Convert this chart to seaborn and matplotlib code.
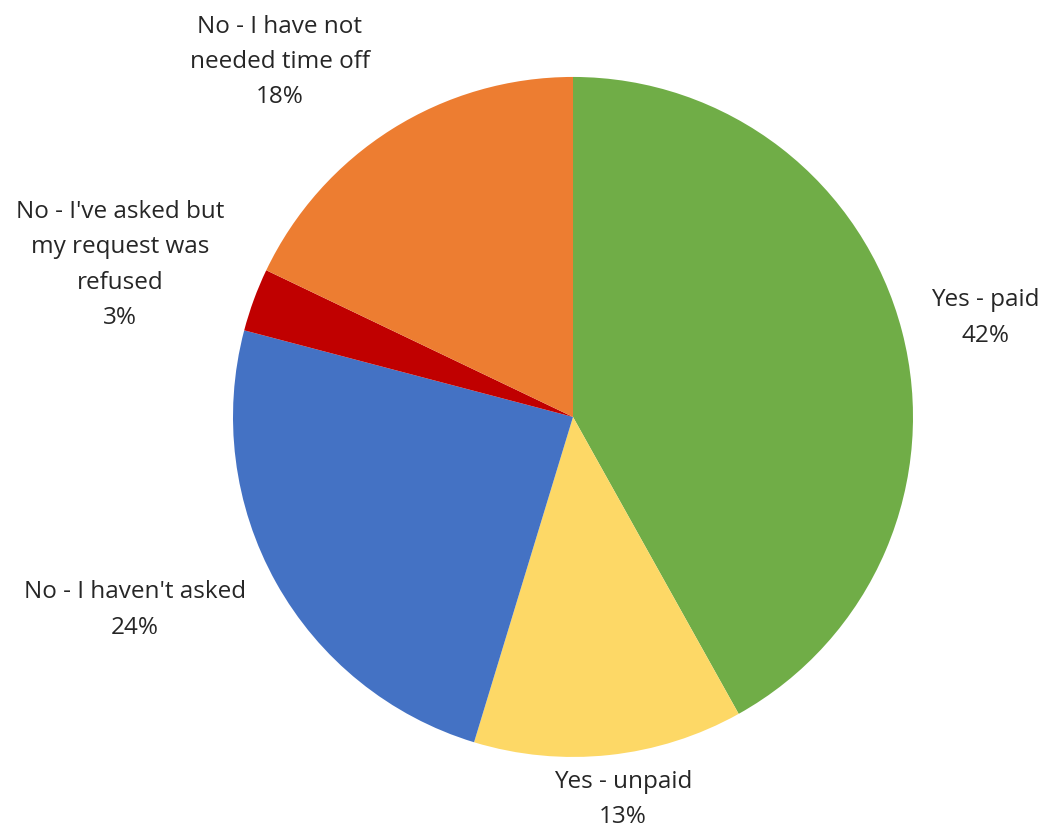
import seaborn as sns
import matplotlib.pyplot as plt

# survey answers, clockwise from 12 o'clock
labels = ["Yes - paid", "Yes - unpaid", "No - I haven't asked",
          "No - I've asked but\nmy request was\nrefused",
          "No - I have not\nneeded time off"]
shares = [41.9, 12.8, 24.4, 3.0, 17.9]
colors = ["#70AD47", "#FDD866", "#4472C4", "#C00000", "#ED7D31"]

# where each data label sits, in pie radii from the centre
label_xy = [(1.212, 0.291), (0.147, -1.126), (-1.288, -0.568),
            (-1.332, 0.447), (-0.862, 1.044)]

sns.set_theme(style="white")
plt.rcParams["font.family"] = ["Open Sans", "DejaVu Sans"]

fig = plt.figure(figsize=(10.42, 8.3), dpi=100)
ax = fig.add_axes([0.2236, 0.088, 0.6526, 0.8193])

wedges, _ = ax.pie(shares, colors=colors, startangle=90, counterclock=False,
                   wedgeprops=dict(linewidth=0))
ax.set_xlim(-1, 1)
ax.set_ylim(-1, 1)
ax.set_aspect("equal")
ax.axis("off")

total = sum(shares)
for lab, val, (x, y) in zip(labels, shares, label_xy):
    ax.text(x, y, "{}\n{:.0f}%".format(lab, 100 * val / total),
            ha="center", va="center", fontsize=17.5, color="#262626",
            linespacing=1.62, clip_on=False)

fig.savefig("out.png", dpi=100, facecolor="white")
